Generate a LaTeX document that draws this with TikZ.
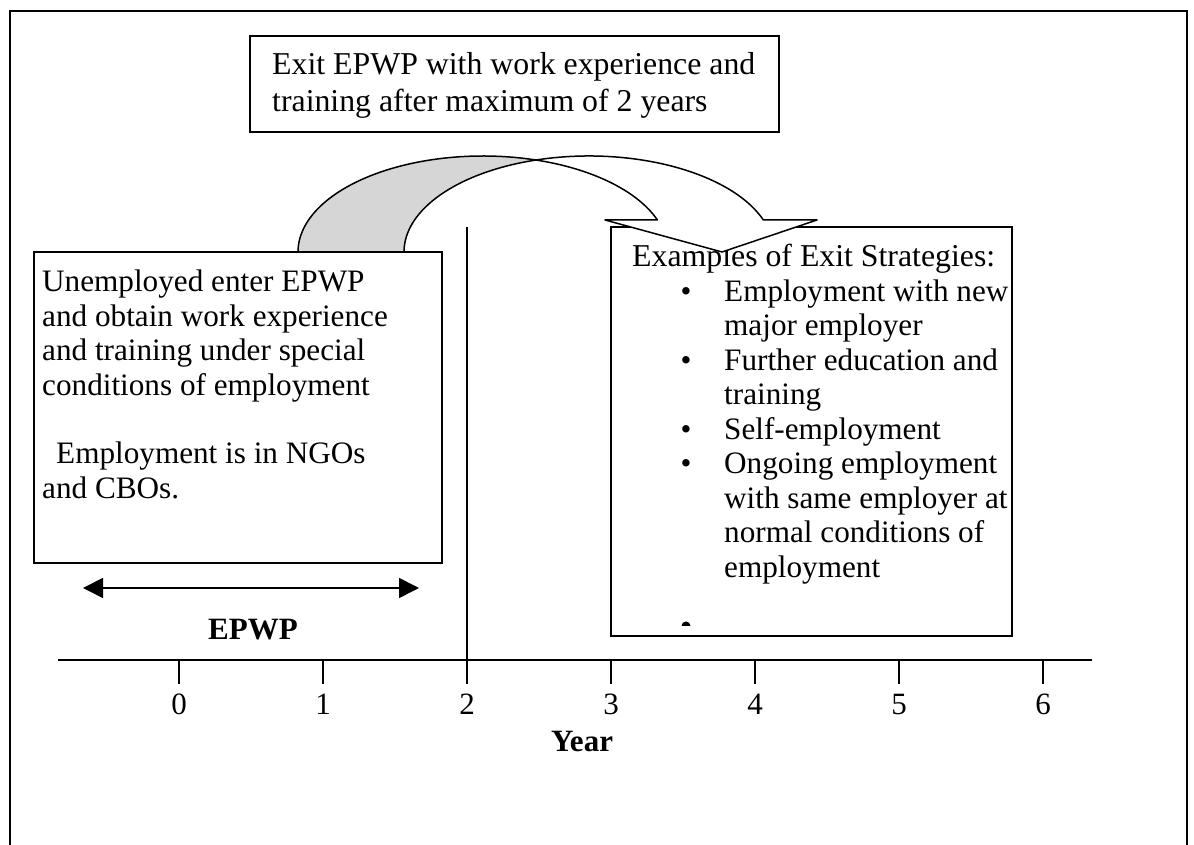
\documentclass[tikz,border=0pt]{standalone}
\usepackage{fontspec}
\setmainfont{Liberation Serif}
\usetikzlibrary{arrows.meta}
\definecolor{bandback}{RGB}{214,214,214}
\begin{document}
\begin{tikzpicture}[x=1pt,y=1pt,
  frameline/.style={line width=1.8pt},
  box/.style={draw, line width=1.6pt, fill=white, inner sep=0pt, outer sep=0pt},
  txt/.style={anchor=base west, inner sep=0pt, font=\fontsize{31.2}{34}\selectfont},
  wtxt/.style={anchor=base west, inner sep=0pt, font=\fontsize{31.8}{34}\selectfont},
  ctr/.style={anchor=base, inner sep=0pt, font=\fontsize{31}{34}\selectfont},
  boldlabel/.style={anchor=base, inner sep=0pt, font=\fontsize{31}{34}\selectfont\bfseries},
  axisline/.style={line width=1.6pt},
  band/.style={line width=1.5pt, line join=round},
  span/.style={line width=1.6pt, {Triangle[length=20pt,width=20pt]}-{Triangle[length=20pt,width=20pt]}}]
\useasboundingbox (0,0) rectangle (1194,845);

% open frame around the figure
\coordinate (fBL) at (10,0);
\coordinate (fTL) at (10,834);
\coordinate (fTR) at (1187,834);
\coordinate (fBR) at (1187,0);
\draw[frameline] (fBL) -- (fTL) -- (fTR) -- (fBR);

% boxes
\node[box, minimum width=529pt, minimum height=96pt] (topbox) at (514.5,761) {};
\node[box, minimum width=408pt, minimum height=311pt] (leftbox) at (238,437.5) {};
\node[box, minimum width=401pt, minimum height=409pt] (rightbox) at (811.5,413.5) {};

% top box text
\node[wtxt] (t1) at (272,770) {Exit EPWP with work experience and};
\node[wtxt] (t2) at (272,733.3) {training after maximum of 2 years};

% left box text
\node[txt] (l1) at (42,553) {Unemployed enter EPWP};
\node[txt] (l2) at (42,518.6) {and obtain work experience};
\node[txt] (l3) at (42,484.2) {and training under special};
\node[txt] (l4) at (42,449.8) {conditions of employment};
\node[txt] (l5) at (56,381) {Employment is in NGOs};
\node[txt] (l6) at (42,346.6) {and CBOs.};

% right box text
\node[wtxt] (r0) at (632,578) {Examples of Exit Strategies:};
\node[txt] (r1) at (724,543.5) {Employment with new};
\node[txt] (r2) at (724,509) {major employer};
\node[txt] (r3) at (724,474.5) {Further education and};
\node[txt] (r4) at (724,440) {training};
\node[txt] (r5) at (724,405.5) {Self-employment};
\node[txt] (r6) at (724,371) {Ongoing employment};
\node[txt] (r7) at (724,336.5) {with same employer at};
\node[txt] (r8) at (724,302) {normal conditions of};
\node[txt] (r9) at (724,267.5) {employment};
\foreach \y [count=\i] in {543.5,474.5,405.5,371}
  \node[ctr] (b\i) at (686,\y) {•};
% trailing empty bullet, cut by the box edge
\fill (681.5,219) arc[start angle=180, end angle=0, radius=4.5pt] -- cycle;

% curved arrow: back face of the band
\coordinate (footL) at (298,593);
\draw[band, fill=bandback] (footL)
  arc[start angle=180, end angle=73.35, x radius=185pt, y radius=96pt]
  arc[start angle=106.65, end angle=180, x radius=185pt, y radius=96pt] -- cycle;
% front face of the band with its head
\coordinate (headR) at (763.4,625);
\coordinate (headA) at (605,625);
\coordinate (headTip) at (722,593);
\coordinate (headB) at (817,625);
\draw[band, fill=white] (headR)
  arc[start angle=19.47, end angle=106.65, x radius=185pt, y radius=96pt]
  arc[start angle=73.35, end angle=19.47, x radius=185pt, y radius=96pt]
  -- (headA) -- (headTip) -- (headB) -- cycle;

% year 2 divider
\coordinate (vtop) at (467,618);
\coordinate (vbot) at (467,161);
\draw[axisline] (vtop) -- (vbot);

% EPWP span
\coordinate (ea) at (83,257);
\coordinate (eb) at (419,257);
\draw[span] (ea) -- (eb);
\node[boldlabel] (epwp) at (253,205) {EPWP};

% time axis
\coordinate (axL) at (58,185);
\coordinate (axR) at (1092,185);
\draw[axisline] (axL) -- (axR);
\foreach \i in {0,...,6}{
  \coordinate (tk\i) at (179+144*\i,185);
  \coordinate (tb\i) at (179+144*\i,161);
  \draw[axisline] (tk\i) -- (tb\i);
  \node[ctr] (n\i) at (179+144*\i,130) {\i};
}
\node[boldlabel] (year) at (582,93) {Year};
\end{tikzpicture}
\end{document}
